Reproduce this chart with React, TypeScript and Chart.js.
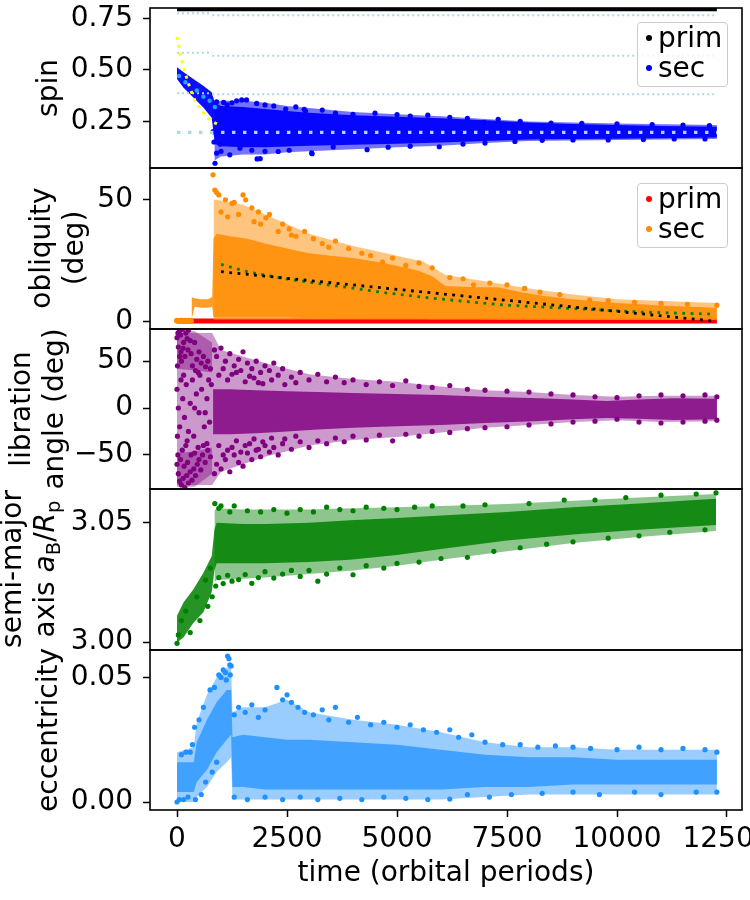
import React, { useEffect, useRef } from 'react';
import { Chart, registerables } from 'chart.js';

Chart.register(...registerables);

const FONT = "'DejaVu Sans', sans-serif";

// shared time axis (orbital periods)
const T_MIN = -614;
const T_MAX = 12841;
const X_TICKS = [0, 2500, 5000, 7500, 10000, 12500];
const T_END = 12270;

type P = [number, number];

// ---------- spin ----------
const SPIN_TICKS = [0.25, 0.5, 0.75];
const SPIN_PRIM: P[] = [[0, 0.799], [T_END, 0.799]];
const SPIN_BAND_T = [0, 144, 371, 598, 788, 860, 1000, 1500, 2000, 2500, 3000, 4000, 5000, 6000, 7000, 8000, 9000, 10000, 11000, 12270];
const SPIN_BAND_HI = [0.513, 0.489, 0.456, 0.423, 0.391, 0.34, 0.325, 0.32, 0.31, 0.3, 0.292, 0.28, 0.272, 0.265, 0.256, 0.245, 0.238, 0.232, 0.228, 0.224];
const SPIN_BAND_LO = [0.456, 0.415, 0.366, 0.317, 0.268, 0.14, 0.13, 0.125, 0.125, 0.128, 0.132, 0.137, 0.142, 0.148, 0.155, 0.162, 0.165, 0.166, 0.168, 0.172];
const SPIN_OUT_T = [850, 1000, 1500, 2000, 2500, 3000, 4000, 5000, 6000, 7000, 8000, 10000, 12270];
const SPIN_OUT_HI = [0.34, 0.35, 0.35, 0.34, 0.325, 0.315, 0.295, 0.285, 0.275, 0.262, 0.25, 0.24, 0.232];
const SPIN_OUT_LO = [0.06, 0.08, 0.09, 0.09, 0.1, 0.105, 0.115, 0.125, 0.132, 0.145, 0.155, 0.16, 0.165];
const SPIN_SEC: P[] = [
  [900, 0.345], [1060, 0.342], [1140, 0.33], [1356, 0.35], [1470, 0.354], [1580, 0.354], [1810, 0.337], [2000, 0.33],
  [2200, 0.325], [2470, 0.31], [2700, 0.32], [2890, 0.309], [2920, 0.30], [3300, 0.305], [3600, 0.29], [4000, 0.284],
  [4500, 0.29], [5000, 0.283], [5300, 0.276], [5700, 0.28], [6200, 0.27], [6600, 0.265], [6980, 0.245], [7300, 0.26],
  [7800, 0.25], [8500, 0.242], [9200, 0.24], [10000, 0.238], [10800, 0.235], [11500, 0.232], [12100, 0.23],
  [864, 0.047], [900, 0.096], [1000, 0.105], [1200, 0.088], [1430, 0.12], [1820, 0.068], [1890, 0.069], [2000, 0.105],
  [2300, 0.104], [2550, 0.11], [3060, 0.097], [3070, 0.093], [3550, 0.126], [4320, 0.113], [4800, 0.125], [5300, 0.13],
  [5960, 0.127], [6500, 0.14], [7000, 0.145], [7680, 0.153], [8300, 0.158], [9000, 0.16], [9800, 0.16], [10600, 0.162],
  [11300, 0.165], [12000, 0.165], [820, 0.2], [840, 0.15], [880, 0.25], [950, 0.2], [980, 0.14], [1250, 0.34], [1700, 0.11],
];
const SPIN_WEDGE: P[] = [[45, 0.47], [190, 0.44], [450, 0.40], [600, 0.37], [740, 0.35], [860, 0.32]];
const SPIN_YELLOW: P[] = [
  [0, 0.66], [38, 0.619], [68, 0.578], [121, 0.537], [167, 0.5], [220, 0.461], [280, 0.421],
  [341, 0.386], [416, 0.347], [523, 0.314], [636, 0.281], [773, 0.252], [939, 0.235],
];
const SPIN_RES_EARLY = [0.775, 0.583, 0.387];
const SPIN_RES_LATE = [0.765, 0.569, 0.382];
const RES_SWITCH_T = 800;
const SPIN_SYNC: P[] = [[0, 0.197], [T_END, 0.197]];

// ---------- obliquity ----------
const OBL_TICKS = [0, 50];
const OBL_PRIM: P[] = [[0, 0.1], [T_END, 0.1]];
const OBL_FLAT: P[] = [[0, 0.2], [45, 0.1], [90, 0.2], [135, 0.1], [180, 0.2], [225, 0.1], [270, 0.2], [315, 0.1]];
const OBL_BAND_T = [330, 400, 550, 700, 800, 830, 900, 1200, 1600, 2000, 2500, 3000, 3500, 4000, 4700, 5450, 5800, 6100, 6800, 7300, 7800, 8300, 9000, 10000, 11000, 12270];
const OBL_BAND_HI = [10, 9.5, 9, 9, 10, 34, 36, 35, 34, 32, 30, 28, 27, 26, 24, 21, 18.5, 14.5, 14, 14, 12, 10.5, 9, 7.5, 6.5, 5.5];
const OBL_BAND_LO = [0.5, 6, 5.5, 5.5, 6, 1.5, 1.5, 1.5, 1.5, 1.5, 1.5, 1.2, 1.2, 1, 1, 1, 0.8, 0.8, 0.8, 0.6, 0.6, 0.5, 0.5, 0.5, 0.5, 0.5];
const OBL_OUT_T = [830, 900, 1500, 2000, 2500, 3000, 4000, 5000, 5600, 6100, 7000, 8000, 9000, 10000, 12270];
const OBL_OUT_HI = [50, 50, 48, 44, 40, 36, 31, 27, 24.5, 19, 16.5, 13.5, 11, 9, 7.5];
const OBL_OUT_LO = [0.5, 0.5, 0.5, 0.5, 0.5, 0.5, 0.5, 0.5, 0.5, 0.5, 0.5, 0.5, 0.5, 0.5, 0.5];
const OBL_SEC: P[] = [
  [818, 60.3], [860, 54], [900, 53], [950, 52], [1100, 50], [1250, 48.5], [1300, 49], [1500, 52], [1560, 50],
  [1700, 46.7], [1850, 45], [2020, 42.6], [2100, 44], [2400, 40], [2550, 38], [2700, 35], [2900, 37], [3300, 32],
  [3600, 33], [3900, 30], [4200, 28], [4670, 24.4], [4900, 26], [5200, 23], [5500, 24], [5800, 22], [6200, 18],
  [6500, 17.5], [6740, 15], [7110, 15.7], [7500, 15], [7900, 13.5], [8250, 12], [8700, 11], [9380, 8.7], [9800, 8.5],
  [10400, 7.8], [11000, 7.4], [11600, 7], [12270, 6.6], [1000, 45], [1400, 44], [1900, 40], [2300, 37], [3100, 34],
  [1150, 43], [1750, 41], [2600, 35.5], [3450, 30.5], [4400, 27],
];
const OBL_FIT_BLACK: P[] = [[1000, 20.4], [12230, 0]];
const OBL_FIT_GREEN: P[] = [[1000, 23.4], [1660, 20.1], [2420, 17.6], [3175, 15.6], [3930, 13.8], [4690, 11.8], [5830, 9.4], [7490, 6.6], [9230, 5.0], [10520, 3.8], [12230, 2.9]];

// ---------- libration angle ----------
const LIB_TICKS = [-50, 0, 50];
const LIB_BAND_T = [820, 1200, 1800, 2500, 3200, 4000, 5000, 6000, 7000, 8250, 9000, 9760, 10500, 11280, 12270];
const LIB_BAND_HI = [20, 20, 19, 18, 17, 16, 15, 14, 12, 10.5, 9, 7.5, 9, 10.5, 10];
const LIB_BAND_LO = [-28, -28, -27, -25, -23, -21, -19.5, -18, -16, -13.8, -12, -10.6, -11.5, -12.7, -12];
const LIB_OUT_T = [0, 800, 1000, 1500, 2000, 2500, 3000, 4000, 5000, 6000, 7000, 8000, 9000, 10000, 11000, 12270];
const LIB_OUT_HI = [80, 80, 62, 55, 48, 42, 36, 31, 28, 23, 19, 17, 14, 12, 13, 13];
const LIB_OUT_LO = [-82, -82, -68, -60, -52, -46, -40, -34, -31, -26, -21, -18, -15, -13, -15, -14];
// early libration: dense lobes near the top and bottom of the range
const LIB_LOBE_T = [0, 400, 800];
const LIB_TOP_HI = [84, 82, 70];
const LIB_TOP_LO = [42, 40, 38];
const LIB_BOT_HI = [-48, -46, -42];
const LIB_BOT_LO = [-84, -84, -70];
const LIB_EARLY: P[] = [
  [0, 75], [20, 80], [50, 82], [80, 78], [120, 84], [150, 70], [200, 80], [230, 74], [260, 83], [300, 72], [30, 65],
  [90, 60], [140, 64], [180, 55], [250, 62], [320, 58], [400, 70], [450, 52], [500, 60], [550, 48], [600, 55], [650, 44],
  [700, 50], [760, 42], [100, 50], [350, 45], [420, 40], [480, 38], [10, 45], [60, 55],
  [0, -60], [30, -70], [60, -78], [100, -82], [140, -75], [180, -85], [220, -72], [260, -80], [300, -68], [340, -77],
  [380, -65], [420, -72], [460, -60], [500, -55], [540, -66], [580, -50], [640, -58], [700, -45], [760, -52], [20, -50],
  [80, -55], [160, -62], [240, -58], [320, -50], [400, -48], [480, -42], [600, -40], [680, -38], [120, -45], [200, -40],
  [0, 20], [30, 0], [60, -20], [90, 30], [130, 10], [170, -10], [210, 25], [260, -25], [300, 5], [350, 30], [380, -30],
  [440, 15], [500, -5], [560, 20], [620, -20], [680, 10], [740, -15], [780, 25], [10, -30], [150, 35], [230, -35],
  [400, 0], [520, 35], [640, -5], [720, 30],
];
const LIB_SPREAD: P[] = [
  [850, 62], [900, 55], [1000, 64], [1100, 50], [1200, 58], [1300, 45], [1400, 52], [1500, 60], [1600, 48], [1700, 42],
  [1800, 50], [1900, 38], [2000, 45], [2100, 40], [2200, 48], [2300, 35], [2400, 42], [2600, 33], [2800, 38], [3000, 30],
  [3200, 36], [3400, 28], [3600, 33], [3800, 27], [4000, 30], [4300, 25], [4600, 28], [4900, 24], [5200, 29], [5500, 23],
  [5800, 22], [6200, 24], [6600, 20], [7000, 19], [7500, 18], [8000, 17], [8500, 15], [9000, 14], [9500, 12], [10000, 11],
  [10500, 13], [11000, 14], [11500, 13], [12000, 14], [12270, 12],
  [950, 35], [1150, 30], [1350, 38], [1550, 28], [1750, 32], [1950, 26], [2150, 30], [2450, 25], [2700, 27], [1050, 42],
  [1250, 36], [1450, 40], [1650, 34], [1850, 27],
  [850, -70], [900, -60], [1000, -65], [1100, -55], [1200, -68], [1300, -50], [1400, -58], [1500, -62], [1600, -48],
  [1700, -55], [1800, -45], [1900, -52], [2000, -40], [2100, -47], [2200, -42], [2300, -50], [2400, -38], [2600, -44],
  [2800, -36], [3000, -42], [3200, -35], [3400, -38], [3600, -32], [3800, -36], [4000, -30], [4300, -34], [4600, -29],
  [4900, -35], [5200, -28], [5500, -30], [5800, -25], [6200, -26], [6600, -22], [7000, -21], [7500, -20], [8000, -18],
  [8500, -17], [9000, -15], [9500, -14], [10000, -12], [10500, -15], [11000, -16], [11500, -15], [12000, -14], [12270, -13],
  [950, -40], [1150, -45], [1350, -35], [1550, -40], [1750, -33], [1950, -36], [2150, -32], [2450, -33], [2700, -30],
  [1050, -50], [1250, -42], [1450, -47], [1650, -38], [1850, -44],
];

// ---------- semi-major axis ----------
const SMA_TICKS = [3.0, 3.05];
const SMA_BAND_T = [0, 150, 370, 600, 790, 850, 900, 1500, 2000, 3000, 3930, 5000, 6000, 7500, 9000, 10500, 12250];
const SMA_BAND_HI = [3.011, 3.0167, 3.022, 3.029, 3.036, 3.047, 3.05, 3.0495, 3.0495, 3.05, 3.051, 3.052, 3.053, 3.0545, 3.0565, 3.058, 3.06];
const SMA_BAND_LO = [2.9997, 3.002, 3.008, 3.0125, 3.021, 3.03, 3.033, 3.033, 3.033, 3.0335, 3.0345, 3.0365, 3.039, 3.0425, 3.045, 3.047, 3.049];
const SMA_OUT_T = [850, 900, 1500, 2000, 3000, 4000, 5000, 6000, 7500, 9000, 10500, 12250];
const SMA_OUT_HI = [3.055, 3.056, 3.0555, 3.0555, 3.0555, 3.056, 3.0565, 3.057, 3.0578, 3.0592, 3.0605, 3.062];
const SMA_OUT_LO = [3.025, 3.026, 3.0265, 3.027, 3.0285, 3.03, 3.032, 3.0345, 3.038, 3.0415, 3.044, 3.0465];
const SMA_SEC: P[] = [
  [860, 3.058], [950, 3.056], [1000, 3.057], [1200, 3.0545], [1300, 3.057], [1600, 3.055], [1900, 3.0545], [2200, 3.0555],
  [2500, 3.054], [2800, 3.0555], [3100, 3.0545], [3400, 3.0565], [3700, 3.0555], [4000, 3.055], [4300, 3.0565], [4700, 3.056],
  [5000, 3.0555], [5400, 3.0565], [5800, 3.057], [6500, 3.057], [7000, 3.0575], [8000, 3.058], [8800, 3.0595], [9500, 3.0595],
  [10200, 3.0605], [11000, 3.0615], [11800, 3.062], [12250, 3.0625],
  [880, 3.0235], [950, 3.027], [1050, 3.0245], [1150, 3.028], [1250, 3.0255], [1400, 3.0262], [1550, 3.0283], [1700, 3.0246],
  [1850, 3.027], [2000, 3.0295], [2200, 3.0268], [2400, 3.0285], [2600, 3.03], [2800, 3.0275], [3000, 3.03], [3200, 3.0255],
  [3400, 3.0285], [3700, 3.031], [4000, 3.0282], [4300, 3.032], [4700, 3.031], [5000, 3.033], [5500, 3.0335], [6000, 3.035],
  [6600, 3.0355], [7200, 3.038], [7800, 3.0395], [8400, 3.041], [9000, 3.042], [9800, 3.0435], [10500, 3.0445], [11200, 3.046],
  [12000, 3.047],
  [0, 2.9995], [30, 3.003], [100, 3.009], [200, 3.013], [300, 3.004], [450, 3.019], [520, 3.009], [650, 3.026], [700, 3.015],
  [760, 3.031], [800, 3.019],
];

// ---------- eccentricity ----------
const ECC_TICKS = [0.0, 0.05];
const ECC_BAND_T = [0, 380, 450, 680, 900, 1130, 1230, 1260, 1500, 2000, 2500, 3000, 4000, 5000, 6000, 7000, 8000, 9000, 10000, 11000, 12270];
const ECC_BAND_HI = [0.016, 0.016, 0.024, 0.033, 0.04, 0.045, 0.045, 0.026, 0.027, 0.026, 0.025, 0.025, 0.024, 0.023, 0.021, 0.019, 0.018, 0.018, 0.017, 0.017, 0.017];
const ECC_BAND_LO = [0.004, 0.004, 0.008, 0.013, 0.02, 0.025, 0.027, 0.006, 0.006, 0.005, 0.005, 0.005, 0.005, 0.005, 0.005, 0.006, 0.006, 0.007, 0.007, 0.007, 0.007];
const ECC_OUT_T = [0, 380, 450, 680, 900, 1130, 1230, 1260, 1500, 2000, 2500, 3000, 4000, 5000, 6000, 7000, 8000, 9000, 10000, 12270];
const ECC_OUT_HI = [0.02, 0.022, 0.032, 0.043, 0.05, 0.054, 0.054, 0.036, 0.038, 0.038, 0.041, 0.036, 0.033, 0.031, 0.028, 0.024, 0.022, 0.022, 0.021, 0.021];
const ECC_OUT_LO = [0.0, 0.0, 0.002, 0.006, 0.012, 0.016, 0.018, 0.001, 0.001, 0.001, 0.001, 0.001, 0.001, 0.001, 0.001, 0.002, 0.003, 0.003, 0.003, 0.003];
const ECC_SEC: P[] = [
  [1150, 0.0586], [1180, 0.0575], [1200, 0.055], [1230, 0.0546], [1100, 0.052], [1050, 0.053], [1000, 0.05], [950, 0.051],
  [1120, 0.049], [1210, 0.051],
  [0, 0.0], [50, 0.001], [150, 0.001], [250, 0.002], [100, 0.019], [200, 0.02], [300, 0.02], [350, 0.023], [400, 0.03],
  [420, 0.001], [500, 0.033], [550, 0.003], [600, 0.038], [650, 0.008], [750, 0.045], [800, 0.012], [850, 0.046], [900, 0.016],
  [1300, 0.035], [1400, 0.038], [1550, 0.036], [1700, 0.039], [1850, 0.034], [2000, 0.037], [2270, 0.046], [2400, 0.041],
  [2500, 0.043], [2600, 0.04], [2750, 0.038], [2900, 0.036], [3100, 0.035], [3300, 0.037], [3450, 0.033], [3600, 0.038],
  [3900, 0.032], [4100, 0.034], [4400, 0.031], [4700, 0.032], [5000, 0.03], [5300, 0.031], [5600, 0.029], [5900, 0.028],
  [6200, 0.029], [6400, 0.026], [6700, 0.027], [7000, 0.024], [7400, 0.023], [7800, 0.023], [8200, 0.022], [8600, 0.0225],
  [9000, 0.022], [9400, 0.0215], [10000, 0.021], [10500, 0.022], [11000, 0.021], [11500, 0.0215], [12000, 0.021], [12270, 0.02],
  [1300, 0.002], [1600, 0.001], [2000, 0.002], [2400, 0.001], [2800, 0.002], [3200, 0.001], [3700, 0.0015], [4200, 0.001],
  [4700, 0.002], [5200, 0.0015], [5700, 0.001], [6200, 0.0012], [6600, 0.003], [7100, 0.002], [7600, 0.003], [8300, 0.0035],
  [9000, 0.004], [9600, 0.003], [10400, 0.004], [11000, 0.003], [11800, 0.004], [12270, 0.004],
];

// ---------- helpers ----------
const pts = (arr: P[]) => arr.map(([x, y]) => ({ x, y }));
const zip = (t: number[], v: number[]) => t.map((x, i) => ({ x, y: v[i] }));

const scatter = (data: P[], color: string, order: number, r = 2.6) => ({
  data: pts(data), showLine: false, pointRadius: r, pointBackgroundColor: color,
  pointBorderWidth: 0, borderWidth: 0, borderColor: 'transparent', fill: false, order,
});

const line = (data: { x: number; y: number }[], color: string, width: number, dash: number[], order: number) => ({
  data, showLine: true, borderColor: color, borderWidth: width, borderDash: dash,
  pointRadius: 0, fill: false, tension: 0, order,
});

// two datasets: upper edge, then lower edge filled back to it
const band = (t: number[], hi: number[], lo: number[], fillColor: string, order: number) => [
  { data: zip(t, hi), showLine: true, borderWidth: 0, borderColor: 'transparent', pointRadius: 0, fill: false, order },
  { data: zip(t, lo), showLine: true, borderWidth: 0, borderColor: 'transparent', pointRadius: 0, fill: '-1', backgroundColor: fillColor, order },
];

const framePlugin = {
  id: 'frame',
  afterDraw(chart: any) {
    const { ctx, chartArea: a } = chart;
    ctx.save();
    ctx.strokeStyle = '#000';
    ctx.lineWidth = 1.6;
    ctx.strokeRect(a.left, a.top, a.right - a.left, a.bottom - a.top);
    ctx.restore();
  },
};

const minus = (v: number, s: string) => (v < 0 ? '\u2212' + s.replace('-', '') : s);

interface PanelProps {
  top: number;
  bottom: number;
  last?: boolean;
  yMin: number;
  yMax: number;
  yTicks: number[];
  fmt: (v: number) => string;
  build: () => any[];
}

const PAD = 6;

const Panel: React.FC<PanelProps> = ({ top, bottom, last = false, yMin, yMax, yTicks, fmt, build }) => {
  const ref = useRef<HTMLCanvasElement>(null);
  const canvasTop = top - PAD;
  const height = last ? 900 - canvasTop : bottom - top + 2 * PAD;
  const xAxisHeight = last ? height - PAD - (bottom - top) : 0;

  useEffect(() => {
    if (!ref.current) return;
    const tickFont = { family: FONT, size: 28 };
    const chart = new Chart(ref.current, {
      type: 'line',
      data: { datasets: build() },
      options: {
        animation: false,
        responsive: false,
        events: [],
        layout: { padding: { left: 0, right: 8, top: PAD, bottom: last ? 0 : PAD } },
        plugins: { legend: { display: false }, tooltip: { enabled: false } },
        scales: {
          x: {
            type: 'linear',
            min: T_MIN,
            max: T_MAX,
            display: last,
            afterBuildTicks: (a: any) => { a.ticks = X_TICKS.map(v => ({ value: v })); },
            afterFit: (a: any) => { a.height = xAxisHeight; a.paddingLeft = 0; a.paddingRight = 0; },
            ticks: { font: tickFont, color: '#000', padding: 6, maxRotation: 0, autoSkip: false, callback: (v: any) => String(v) },
            grid: { drawOnChartArea: false, drawTicks: true, tickLength: 7, tickWidth: 1.5, tickColor: '#000' },
            border: { display: false },
          },
          y: {
            type: 'linear',
            min: yMin,
            max: yMax,
            afterBuildTicks: (a: any) => { a.ticks = yTicks.map(v => ({ value: v })); },
            afterFit: (a: any) => { a.width = 150; a.paddingTop = 0; a.paddingBottom = 0; },
            ticks: { font: tickFont, color: '#000', padding: 10, autoSkip: false, callback: (v: any) => fmt(Number(v)) },
            grid: { drawOnChartArea: false, drawTicks: true, tickLength: 7, tickWidth: 1.5, tickColor: '#000' },
            border: { display: false },
          },
        },
      } as any,
      plugins: [framePlugin],
    });
    return () => { chart.destroy(); };
  }, []);

  return (
    <canvas
      ref={ref}
      width={750}
      height={height}
      style={{ position: 'absolute', left: 0, top: canvasTop, width: 750, height }}
    />
  );
};

const buildSpin = () => {
  const res: any[] = [];
  SPIN_RES_EARLY.forEach((v, i) => {
    res.push(line([{ x: 0, y: v }, { x: RES_SWITCH_T, y: v }], '#add8e6', 2, [2, 3], 1));
    res.push(line([{ x: RES_SWITCH_T, y: SPIN_RES_LATE[i] }, { x: T_END, y: SPIN_RES_LATE[i] }], '#add8e6', 2, [2, 3], 1));
  });
  return [
    line(pts(SPIN_PRIM), '#000000', 6, [], 7),
    ...band(SPIN_OUT_T, SPIN_OUT_HI, SPIN_OUT_LO, 'rgba(0,0,255,0.55)', 5),
    ...band(SPIN_BAND_T, SPIN_BAND_HI, SPIN_BAND_LO, 'rgba(0,0,255,0.95)', 4),
    scatter(SPIN_SEC, '#0000ff', 3),
    ...res,
    line(pts(SPIN_SYNC), '#add8e6', 3.4, [3.4, 7.6], 1),
    scatter(SPIN_WEDGE, '#1ea7ff', 0, 2.2),
    line(pts(SPIN_YELLOW), '#ffff00', 3, [3, 5], 0),
  ];
};

const buildObl = () => [
  line(pts(OBL_PRIM), '#ff0000', 5, [], 6),
  ...band(OBL_OUT_T, OBL_OUT_HI, OBL_OUT_LO, 'rgba(255,140,0,0.5)', 4),
  ...band(OBL_BAND_T, OBL_BAND_HI, OBL_BAND_LO, 'rgba(255,140,0,0.85)', 3),
  scatter(OBL_SEC, '#ff8c00', 2),
  scatter(OBL_FLAT, '#ff8c00', 2, 3),
  line(pts(OBL_FIT_GREEN), '#008000', 2.8, [2.8, 5.5], 1),
  line(pts(OBL_FIT_BLACK), '#000000', 2.8, [2.8, 5.5], 0),
];

const buildLib = () => [
  ...band(LIB_OUT_T, LIB_OUT_HI, LIB_OUT_LO, 'rgba(128,0,128,0.4)', 5),
  ...band(LIB_LOBE_T, LIB_TOP_HI, LIB_TOP_LO, 'rgba(128,0,128,0.4)', 4),
  ...band(LIB_LOBE_T, LIB_BOT_HI, LIB_BOT_LO, 'rgba(128,0,128,0.4)', 4),
  ...band(LIB_BAND_T, LIB_BAND_HI, LIB_BAND_LO, 'rgba(128,0,128,0.82)', 3),
  scatter(LIB_SPREAD, '#800080', 2),
  scatter(LIB_EARLY, '#800080', 2),
];

const buildSma = () => [
  ...band(SMA_OUT_T, SMA_OUT_HI, SMA_OUT_LO, 'rgba(0,128,0,0.45)', 4),
  ...band(SMA_BAND_T, SMA_BAND_HI, SMA_BAND_LO, 'rgba(0,128,0,0.85)', 3),
  scatter(SMA_SEC, '#008000', 2),
];

const buildEcc = () => [
  ...band(ECC_OUT_T, ECC_OUT_HI, ECC_OUT_LO, 'rgba(30,144,255,0.45)', 4),
  ...band(ECC_BAND_T, ECC_BAND_HI, ECC_BAND_LO, 'rgba(30,144,255,0.72)', 3),
  scatter(ECC_SEC, '#1e90ff', 2),
];

const YLabel: React.FC<{ x: number; y: number; children: React.ReactNode }> = ({ x, y, children }) => (
  <div
    style={{
      position: 'absolute', left: x, top: y, transform: 'translate(-50%, -50%) rotate(-90deg)',
      fontFamily: FONT, fontSize: 28, lineHeight: '33px', textAlign: 'center', whiteSpace: 'nowrap', color: '#000',
    }}
  >
    {children}
  </div>
);

const Legend: React.FC<{ top: number; colors: [string, string] }> = ({ top, colors }) => (
  <div
    style={{
      position: 'absolute', left: 637, top, width: 91, height: 65, boxSizing: 'border-box',
      border: '1px solid #cccccc', borderRadius: 4, background: 'rgba(255,255,255,0.8)',
      fontFamily: FONT, fontSize: 28, color: '#000',
    }}
  >
    {['prim', 'sec'].map((name, i) => (
      <div key={name} style={{ position: 'absolute', left: 0, top: i * 30, height: 30, lineHeight: '30px', width: '100%' }}>
        <span style={{ position: 'absolute', left: 8, top: 12, width: 6, height: 6, borderRadius: 3, background: colors[i] }} />
        <span style={{ position: 'absolute', left: 20, top: 0 }}>{name}</span>
      </div>
    ))}
  </div>
);

const sub = (s: string) => (
  <span style={{ fontSize: '0.7em', position: 'relative', top: '0.3em' }}>{s}</span>
);

export default function App() {
  return (
    <div style={{ position: 'absolute', left: 0, top: 0, width: 750, height: 900, background: '#fff', overflow: 'hidden' }}>
      <Panel top={8} bottom={168} yMin={0.024} yMax={0.8} yTicks={SPIN_TICKS} fmt={v => v.toFixed(2)} build={buildSpin} />
      <Panel top={168} bottom={329} yMin={-3.2} yMax={63.1} yTicks={OBL_TICKS} fmt={v => String(v)} build={buildObl} />
      <Panel top={329} bottom={489} yMin={-86.4} yMax={84.3} yTicks={LIB_TICKS} fmt={v => minus(v, String(v))} build={buildLib} />
      <Panel top={489} bottom={650} yMin={2.9967} yMax={3.0641} yTicks={SMA_TICKS} fmt={v => v.toFixed(2)} build={buildSma} />
      <Panel top={650} bottom={810} last yMin={-0.0032} yMax={0.061} yTicks={ECC_TICKS} fmt={v => v.toFixed(2)} build={buildEcc} />

      <YLabel x={47} y={88}>spin</YLabel>
      <YLabel x={57} y={248}>obliquity<br />(deg)</YLabel>
      <YLabel x={37} y={409}>libration<br />angle (deg)</YLabel>
      <YLabel x={29} y={569}>
        semi-major<br />axis <i>a</i>{sub('B')}/<i>R</i>{sub('p')}
      </YLabel>
      <YLabel x={47} y={730}>eccentricity</YLabel>

      <Legend top={22} colors={['#000000', '#0000ff']} />
      <Legend top={183} colors={['#ff0000', '#ff8c00']} />

      <div
        style={{
          position: 'absolute', left: 446, top: 855, transform: 'translateX(-50%)', whiteSpace: 'nowrap',
          fontFamily: FONT, fontSize: 28, lineHeight: '34px', color: '#000',
        }}
      >
        time (orbital periods)
      </div>
    </div>
  );
}
